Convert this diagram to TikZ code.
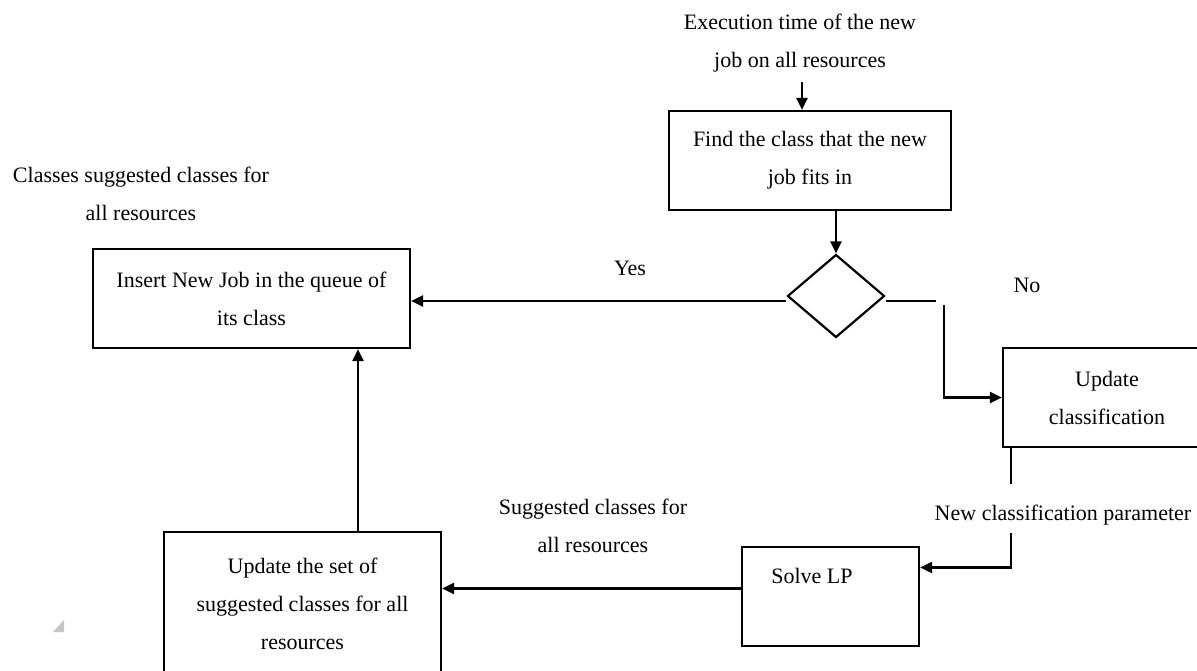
\documentclass[tikz,border=0pt]{standalone}
\usepackage{fontspec}
\setmainfont{Liberation Serif}
\usetikzlibrary{arrows.meta,shapes.geometric}
\tikzset{
  txt/.style={inner sep=0pt,align=center,font=\fontsize{22}{38}\selectfont},
  boxnode/.style={draw,line width=2.2pt,inner sep=0pt,align=center,font=\fontsize{22}{38}\selectfont},
  ln/.style={line width=2.2pt},
  arr/.style={line width=2.2pt,-{Triangle[length=12pt,width=11pt]}}
}
\begin{document}
\begin{tikzpicture}[x=1pt,y=-1pt]
\useasboundingbox (0,0) rectangle (1197,671);
\clip (0,0) rectangle (1197,671);
% texts
\node[txt] (exec) at (800,43) {Execution time of the new\\job on all resources};
\node[txt] (cls) at (141,194) {Classes suggested classes for\\all resources};
\node[txt] (yes) at (630,268) {Yes};
\node[txt] (no) at (1027,285) {No};
\node[txt] (ncp) at (1063,515) {New classification parameter};
\node[txt] (sug) at (593,526) {Suggested classes for\\all resources};
% boxes
\node[boxnode,minimum width=282pt,minimum height=99pt] (fb) at (810,160.5) {Find the class that the new\\job fits in};
\node[draw,ln,diamond,inner sep=0pt,minimum width=97pt,minimum height=83pt] (dia) at (836,296) {};
\node[boxnode,minimum width=317pt,minimum height=99pt] (ins) at (251.5,298.5) {Insert New Job in the queue of\\its class};
\node[boxnode,minimum width=208pt,minimum height=99pt] (uc) at (1107,397.5) {Update\\classification};
\node[draw,ln,minimum width=177pt,minimum height=99pt] (lp) at (830.5,596.5) {};
\node[txt] (lpt) at (812,576) {Solve LP};
\node[boxnode,minimum width=277pt,minimum height=144pt] (us) at (302.5,604) {Update the set of\\suggested classes for all\\resources};
% helper coordinates
\coordinate (c3) at (936,301);
\coordinate (c4) at (944,305);
\coordinate (c1) at (1011,484);
\coordinate (c2) at (1011,533);
% connectors
\draw[arr,shorten <=10pt] ([xshift=2pt]exec.south) -- ([xshift=2pt]exec.south |- fb.north);
\draw[arr] (fb.south -| dia.north) -- (dia.north);
\draw[arr] ([yshift=-5pt]dia.west) -- ([yshift=-5pt]dia.west -| ins.east);
\draw[ln] ([yshift=-5pt]dia.east) -- (c3);
\draw[arr] (c4) |- (uc.west);
\draw[ln] (uc.south -| c1) -- (c1);
\draw[arr] (c2) |- ([yshift=29pt]lp.east);
\draw[arr] ([yshift=8pt]lp.west) -- ([yshift=8pt]lp.west -| us.east);
\draw[arr] ([xshift=55.5pt]us.north) -- ([xshift=55.5pt]us.north |- ins.south);
% grey mark
\fill[gray!45] (53,632) -- (64,632) -- (64,620) -- cycle;
\end{tikzpicture}
\end{document}
